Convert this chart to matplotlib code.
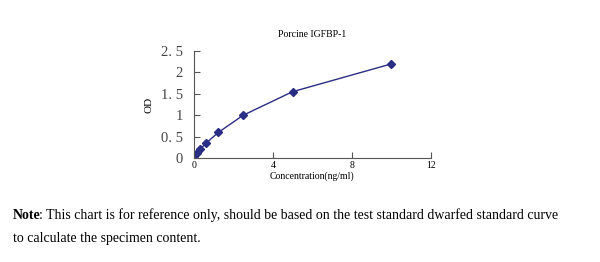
import matplotlib
matplotlib.use("Agg")
import matplotlib.pyplot as plt

# standard curve values
conc = [0, 0.156, 0.312, 0.625, 1.25, 2.5, 5, 10]
od = [0.05, 0.12, 0.2, 0.35, 0.6, 1.0, 1.55, 2.2]

x_ticks = [0, 4, 8, 12]
y_ticks = [0, 0.5, 1, 1.5, 2, 2.5]
y_tick_labels = ['0', '0. 5', '1', '1. 5', '2', '2. 5']

plt.rcParams['font.family'] = ['Liberation Serif', 'DejaVu Serif']

fig = plt.figure(figsize=(6, 2.62), dpi=100)
ax = fig.add_axes([0.323, 0.397, 0.395, 0.408])

ax.plot(conc, od, color='#2a2d84', marker='D', markersize=3.8, linewidth=1.0)

ax.set_xlim(0, 12)
ax.set_ylim(0, 2.5)
ax.set_xticks(x_ticks)
ax.set_yticks(y_ticks)
ax.set_yticklabels(y_tick_labels)
ax.tick_params(axis='x', direction='in', length=4, labelsize=7, pad=2, color='#555555')
ax.tick_params(axis='y', direction='in', length=4, labelsize=10.5, pad=8, color='#555555')
for lbl in ax.get_yticklabels():
    lbl.set_color('#444444')

ax.spines['top'].set_visible(False)
ax.spines['right'].set_visible(False)
ax.spines['left'].set_color('#555555')
ax.spines['bottom'].set_color('#555555')

ax.set_title('Porcine IGFBP-1', fontsize=7, pad=10)
ax.set_xlabel('Concentration(ng/ml)', fontsize=7, labelpad=1)
ax.set_ylabel('OD', fontsize=8, labelpad=5)

# note below the chart: bold "Note" followed by normal text
fs = 10
note = fig.text(0.022, 0.178, 'Note', fontsize=fs, fontweight='bold', va='center')
renderer = fig.canvas.get_renderer()
bb = note.get_window_extent(renderer=renderer)
x_after = (bb.x1 - 1.5) / fig.bbox.width
fig.text(x_after, 0.178, ': This chart is for reference only, should be based on the test standard dwarfed standard curve',
         fontsize=fs, va='center')
fig.text(0.022, 0.09, 'to calculate the specimen content.', fontsize=fs, va='center')

fig.savefig('out.png', dpi=100)
